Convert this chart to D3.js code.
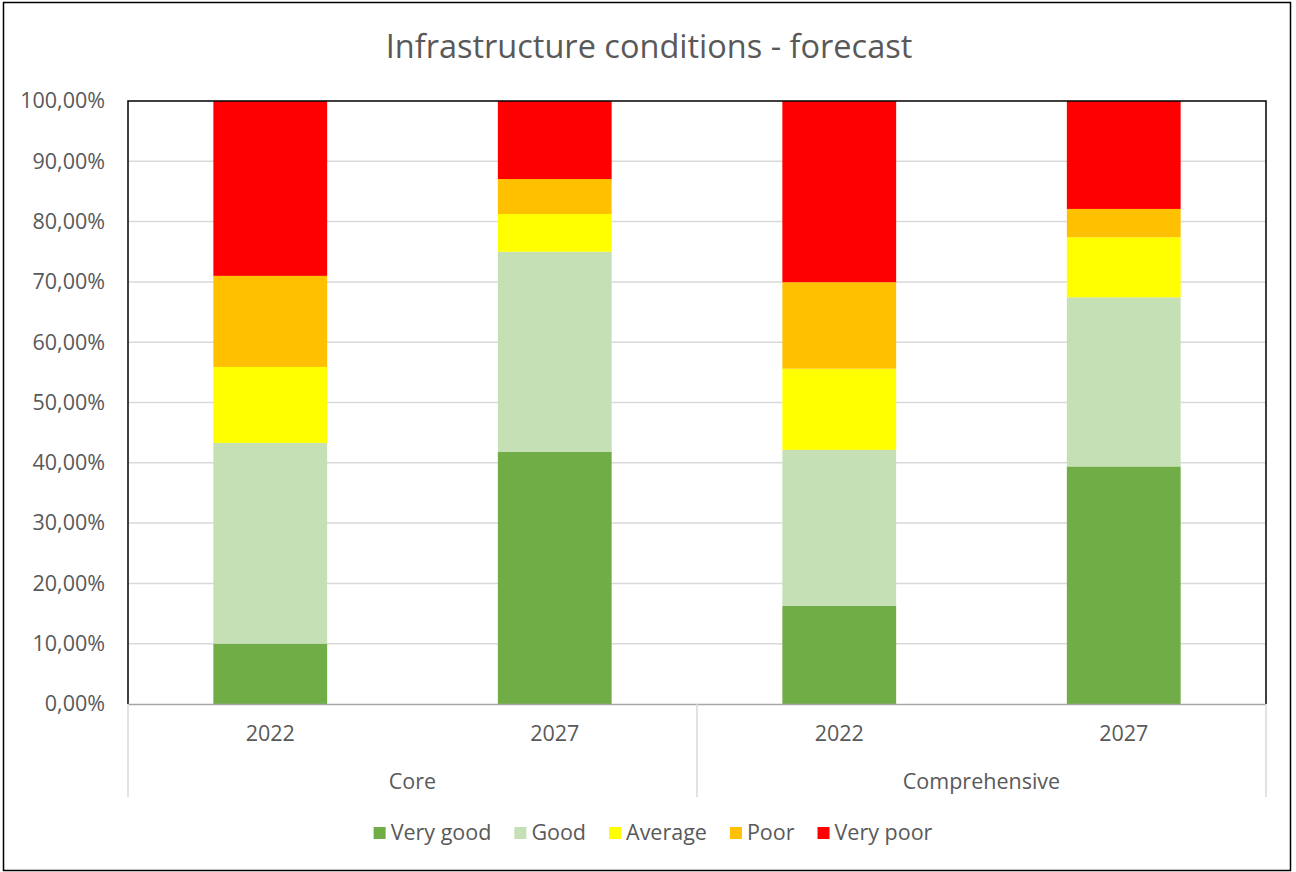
<!DOCTYPE html>
<html>
<head>
<meta charset="utf-8">
<script src="https://cdn.jsdelivr.net/npm/d3@7"></script>
<style>
  html, body { margin: 0; padding: 0; background: #fff; }
  svg { display: block; }
  text { font-family: "Open Sans", "Noto Sans", sans-serif; fill: #595959; }
</style>
</head>
<body>
<svg id="chart" width="1296" height="872"></svg>
<script>
const groups = ["Core", "Core", "Comprehensive", "Comprehensive"];
const years = ["2022", "2027", "2022", "2027"];
const seriesNames = ["Very good", "Good", "Average", "Poor", "Very poor"];
const seriesColors = ["#70ad47", "#c5e0b4", "#ffff00", "#ffc000", "#ff0000"];
const veryGood = [0.100, 0.418, 0.1625, 0.394];
const good     = [0.333, 0.332, 0.259, 0.2805];
const average  = [0.126, 0.0626, 0.1345, 0.0995];
const poor     = [0.151, 0.058, 0.1435, 0.047];
const veryPoor = [0.290, 0.1294, 0.3005, 0.179];
const yTicks = [0, 0.1, 0.2, 0.3, 0.4, 0.5, 0.6, 0.7, 0.8, 0.9, 1.0];
const title = "Infrastructure conditions - forecast";

const svg = d3.select("#chart");
const W = 1296, H = 872;
const m = {left: 128, right: 1266, top: 101, bottom: 704};
const FS = 21.5;

// outer border
svg.append("rect").attr("x", 3.5).attr("y", 2.5).attr("width", 1287).attr("height", 868)
  .attr("fill", "#fff").attr("stroke", "#000").attr("stroke-width", 1.5);

const cats = years.map((y, i) => i);
const rows = cats.map(i => ({
  idx: i,
  "Very good": veryGood[i], "Good": good[i], "Average": average[i],
  "Poor": poor[i], "Very poor": veryPoor[i]
}));

const x = d3.scaleBand().domain(cats).range([m.left, m.right]).paddingInner(0.6).paddingOuter(0.3);
const y = d3.scaleLinear().domain([0, 1]).range([m.bottom, m.top]);

const locale = d3.formatLocale({decimal: ",", thousands: ".", grouping: [3], currency: ["", "€"]});
const fmt = locale.format(".2%");

// gridlines
svg.append("g").selectAll("line").data(yTicks.filter(t => t > 0 && t < 1)).join("line")
  .attr("x1", m.left).attr("x2", m.right)
  .attr("y1", d => y(d)).attr("y2", d => y(d))
  .attr("stroke", "#d9d9d9").attr("stroke-width", 1.5);

// stacked bars
const stack = d3.stack().keys(seriesNames);
const layers = stack(rows);
const color = d3.scaleOrdinal().domain(seriesNames).range(seriesColors);
svg.append("g").selectAll("g").data(layers).join("g")
  .attr("fill", d => color(d.key))
  .selectAll("rect").data(d => d).join("rect")
  .attr("x", d => x(d.data.idx))
  .attr("width", x.bandwidth())
  .attr("y", d => y(d[1]))
  .attr("height", d => y(d[0]) - y(d[1]));

// plot border (left, top, right)
svg.append("path")
  .attr("d", `M${m.left},${m.bottom} V${m.top} H${m.right} V${m.bottom}`)
  .attr("fill", "none").attr("stroke", "#000").attr("stroke-width", 1.5);

// y axis
const yAxis = d3.axisLeft(y).tickValues(yTicks).tickFormat(fmt).tickSize(0).tickPadding(23);
const ya = svg.append("g").attr("transform", `translate(${m.left},0)`).call(yAxis);
ya.select(".domain").remove();
ya.selectAll("text").attr("font-size", FS).style("font-family", '"Open Sans", sans-serif').attr("fill", "#595959");

// x axis baseline
svg.append("line").attr("x1", m.left).attr("x2", m.right).attr("y1", m.bottom + 0.5).attr("y2", m.bottom + 0.5)
  .attr("stroke", "#a6a6a6").attr("stroke-width", 1.5);

// category labels (years)
const xAxis = d3.axisBottom(x).tickFormat(i => years[i]).tickSize(0).tickPadding(22);
const xa = svg.append("g").attr("transform", `translate(0,${m.bottom})`).call(xAxis);
xa.select(".domain").remove();
xa.selectAll("text").attr("font-size", FS).style("font-family", '"Open Sans", sans-serif').attr("fill", "#595959");

// group labels & dividers
const groupNames = Array.from(new Set(groups));
const groupSpans = groupNames.map(g => {
  const idxs = cats.filter(i => groups[i] === g);
  const x0 = m.left + (m.right - m.left) * idxs[0] / cats.length;
  const x1 = m.left + (m.right - m.left) * (idxs[idxs.length - 1] + 1) / cats.length;
  return {g, x0, x1};
});
const dividers = [m.left].concat(groupSpans.map(s => s.x1));
svg.append("g").selectAll("line").data(dividers).join("line")
  .attr("x1", d => d).attr("x2", d => d)
  .attr("y1", m.bottom).attr("y2", 797)
  .attr("stroke", "#d9d9d9").attr("stroke-width", 1.5);
svg.append("g").selectAll("text").data(groupSpans).join("text")
  .attr("x", d => (d.x0 + d.x1) / 2).attr("y", 789)
  .attr("text-anchor", "middle").attr("font-size", FS).text(d => d.g);

// title
svg.append("text").attr("x", 649).attr("y", 58).attr("text-anchor", "middle")
  .attr("font-size", 32.5).text(title);

// legend
const leg = svg.append("g");
let lx = 0;
const gap = 23;
seriesNames.forEach((n, i) => {
  const g = leg.append("g");
  g.append("rect").attr("x", 0).attr("y", -13).attr("width", 12).attr("height", 12).attr("fill", seriesColors[i]);
  const t = g.append("text").attr("x", 17).attr("y", 0).attr("font-size", FS).text(n);
  const w = 17 + t.node().getComputedTextLength();
  g.attr("transform", `translate(${lx},0)`);
  lx += w + gap;
});
const totalW = lx - gap;
leg.attr("transform", `translate(${(W - totalW) / 2 + 5},${840})`);
</script>
</body>
</html>
